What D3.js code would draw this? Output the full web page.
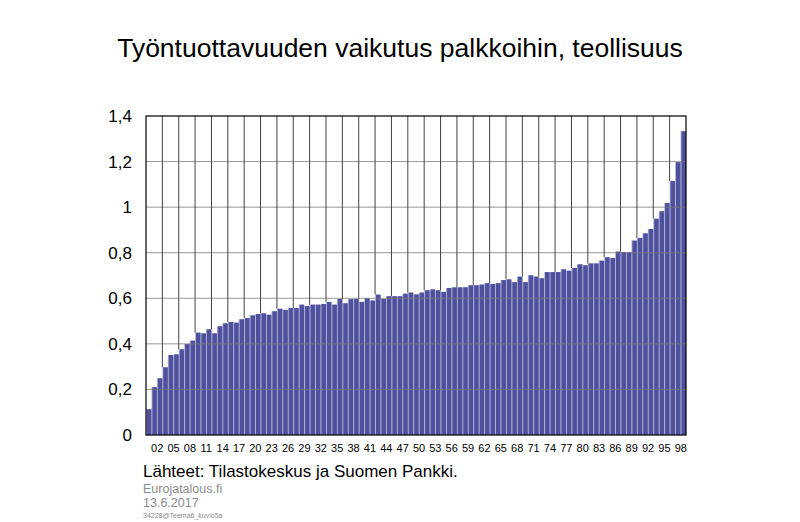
<!DOCTYPE html>
<html><head><meta charset="utf-8">
<script src="https://cdn.jsdelivr.net/npm/d3@7"></script>
<style>body{margin:0;background:#fff}svg{display:block}</style>
</head><body><svg id="c" width="800" height="522"></svg>
<script>
const title = "Työntuottavuuden vaikutus palkkoihin, teollisuus";
const categories = d3.range(1, 100).map(d => String(d).padStart(2, "0"));
const values = [0.113,0.21,0.249,0.297,0.351,0.354,0.376,0.399,0.414,0.449,
0.446,0.464,0.446,0.477,0.49,0.496,0.493,0.508,0.513,0.525,
0.531,0.534,0.528,0.543,0.554,0.549,0.557,0.557,0.572,0.566,
0.572,0.572,0.575,0.584,0.572,0.597,0.578,0.596,0.597,0.584,
0.6,0.59,0.616,0.597,0.609,0.609,0.609,0.62,0.625,0.617,
0.625,0.635,0.639,0.635,0.628,0.645,0.648,0.648,0.648,0.657,
0.657,0.66,0.666,0.663,0.666,0.68,0.683,0.671,0.695,0.671,
0.701,0.695,0.688,0.715,0.715,0.715,0.727,0.721,0.733,0.749,
0.745,0.753,0.753,0.765,0.78,0.777,0.805,0.803,0.803,0.853,
0.865,0.885,0.904,0.949,0.982,1.018,1.115,1.197,1.333];
const yTicks = [0,0.2,0.4,0.6,0.8,1,1.2,1.4];
const xTickLabels = categories.filter((d,i) => i % 3 === 1);
const sourceLines = ["Lähteet: Tilastokeskus ja Suomen Pankki.", "Eurojatalous.fi", "13.6.2017", "34228@Teema6_kuvio5a"];

const svg = d3.select("#c");
const L = 146, R = 686, T = 116, B = 435;
const x = d3.scaleBand().domain(categories).range([L, R]).padding(0);
const y = d3.scaleLinear().domain([0, 1.4]).range([B, T]);
const fmt = d => String(+d.toFixed(1)).replace(".", ",");

svg.append("text").attr("x", 400).attr("y", 57).attr("text-anchor", "middle")
  .attr("font-family", "Liberation Sans, Arial, sans-serif").attr("font-size", 26.5)
  .attr("fill", "#000").text(title);

// bars
const bw = x.bandwidth();
const g = svg.append("g");
g.selectAll("rect.bg").data(values).join("rect")
  .attr("x", (d,i) => x(categories[i])).attr("y", d => y(d))
  .attr("width", bw).attr("height", d => B - y(d)).attr("fill", "#b4b5dd");
g.selectAll("rect.fg").data(values).join("rect")
  .attr("x", (d,i) => x(categories[i]) + 0.9).attr("y", d => y(d))
  .attr("width", bw - 0.9).attr("height", d => B - y(d)).attr("fill", "#4f519d");

// grid
const grid = svg.append("g");
grid.selectAll("line.h").data(yTicks.filter(t => t > 0 && t < 1.4)).join("line")
  .attr("x1", L).attr("x2", R).attr("y1", d => y(d)).attr("y2", d => y(d))
  .attr("stroke", "#777").attr("stroke-opacity", 0.75).attr("stroke-width", 1);
const vIdx = d3.range(3, 99, 3);
grid.selectAll("line.v").data(vIdx).join("line")
  .attr("x1", i => x(categories[i])).attr("x2", i => x(categories[i]))
  .attr("y1", T).attr("y2", i => y(Math.max(values[i], values[i-1])))
  .attr("stroke", "#444").attr("stroke-width", 1);

// frame
svg.append("rect").attr("x", L).attr("y", T).attr("width", R - L).attr("height", B - T)
  .attr("fill", "none").attr("stroke", "#000").attr("stroke-width", 1.2);

// y axis
const ya = svg.append("g").attr("transform", `translate(${L},0)`)
  .call(d3.axisLeft(y).tickValues(yTicks).tickFormat(fmt).tickSize(0).tickPadding(14));
ya.select(".domain").remove();
ya.selectAll("text").attr("font-family", "Liberation Sans, Arial, sans-serif").attr("font-size", 17).attr("fill", "#000");

// x axis
const xa = svg.append("g").attr("transform", `translate(0,${B})`)
  .call(d3.axisBottom(x).tickValues(xTickLabels).tickSize(0).tickPadding(9));
xa.select(".domain").remove();
xa.selectAll("text").attr("font-family", "Liberation Sans, Arial, sans-serif").attr("font-size", 11)
  .attr("fill", "#000").attr("dx", 3);

// sources
const src = [
  {t: sourceLines[0], y: 477, s: 17, c: "#000"},
  {t: sourceLines[1], y: 493, s: 12.5, c: "#8c8c8c"},
  {t: sourceLines[2], y: 507, s: 12.5, c: "#8c8c8c"},
  {t: sourceLines[3], y: 518, s: 7, c: "#8c8c8c"}
];
svg.selectAll("text.src").data(src).join("text").attr("x", 143).attr("y", d => d.y)
  .attr("font-family", "Liberation Sans, Arial, sans-serif").attr("font-size", d => d.s)
  .attr("fill", d => d.c).text(d => d.t);
</script></body></html>
